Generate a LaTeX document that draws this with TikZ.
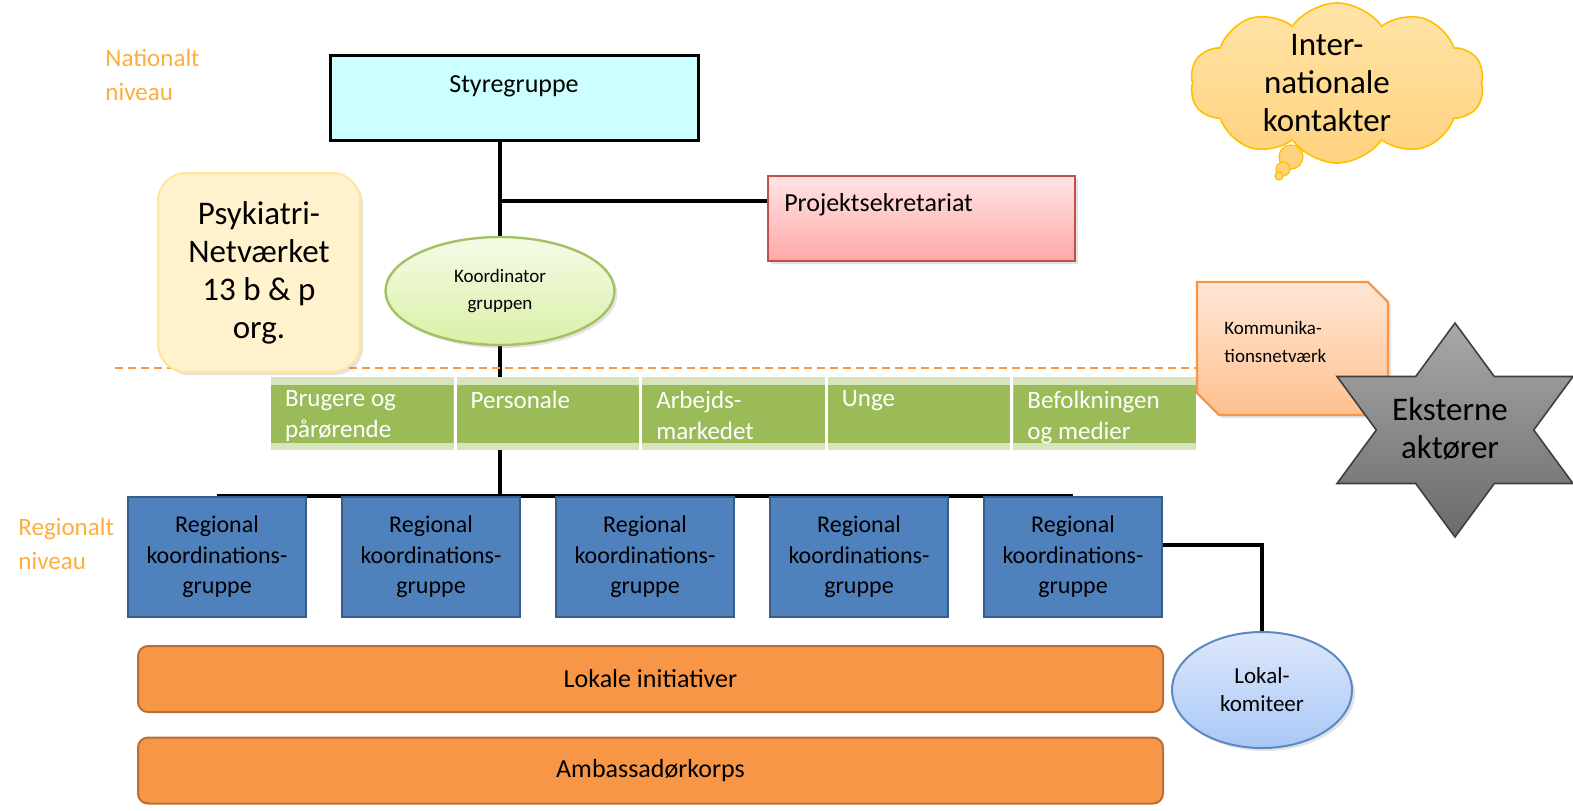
\documentclass[tikz,border=0pt]{standalone}
\usepackage{fontspec}
\setmainfont{Carlito}
\usetikzlibrary{positioning,shapes.geometric,shapes.symbols,shadows,backgrounds}

\definecolor{styrefill}{HTML}{CCFFFF}
\definecolor{sekline}{HTML}{C0504D}
\definecolor{sektop}{HTML}{FFE4E4}
\definecolor{sekbot}{HTML}{FFA8A8}
\definecolor{koordline}{HTML}{A3C163}
\definecolor{koordtop}{HTML}{F5FBE8}
\definecolor{koordbot}{HTML}{DAF0A6}
\definecolor{psykfill}{HTML}{FFF2CC}
\definecolor{psykline}{HTML}{FFE699}
\definecolor{skillefarve}{HTML}{F79646}
\definecolor{cellefyld}{HTML}{9BBB59}
\definecolor{cellelys}{HTML}{D7E4BD}
\definecolor{regionfill}{HTML}{4F81BD}
\definecolor{regionline}{HTML}{385D8A}
\definecolor{barfill}{HTML}{F79646}
\definecolor{barline}{HTML}{B86E35}
\definecolor{lokaltop}{HTML}{DDE7FA}
\definecolor{lokalbot}{HTML}{A9C8F6}
\definecolor{lokalline}{HTML}{5B89C4}
\definecolor{kommtop}{HTML}{FFE7D6}
\definecolor{kommbot}{HTML}{FFC08E}
\definecolor{startop}{HTML}{A8A8A8}
\definecolor{starbot}{HTML}{6B6B6B}
\definecolor{starline}{HTML}{3F3F3F}
\definecolor{skytop}{HTML}{FFE4A8}
\definecolor{skybot}{HTML}{FFD27E}
\definecolor{skyline}{HTML}{FFC000}
\definecolor{niveautxt}{HTML}{FFAD3D}

\newcommand{\fsz}[2]{\fontsize{#1}{#2}\selectfont}

\begin{document}
\begin{tikzpicture}[x=0.5pt,y=-0.5pt,
    forbind/.style={line width=1.6pt},
    skille/.style={draw=skillefarve,line width=1.2pt,dash pattern=on 4pt off 2.5pt},
    skygge/.style={drop shadow={opacity=0.22,shadow xshift=1.5pt,shadow yshift=-1.5pt}},
    niveau/.style={anchor=west,align=left,inner sep=0pt,text=niveautxt,font=\fsz{12.5}{17}},
    styrebox/.style={draw,line width=1.5pt,fill=styrefill,minimum width=184pt,minimum height=42.5pt,
        label={[anchor=north,yshift=-7.5pt,font=\fsz{13}{15}]north:#1}},
    sekbox/.style={draw=sekline,line width=1.2pt,top color=sektop,bottom color=sekbot,skygge,
        minimum width=153.5pt,minimum height=42.5pt,
        label={[anchor=north west,xshift=5.2pt,yshift=-6pt,font=\fsz{13}{15}]north west:#1}},
    koordell/.style={ellipse,draw=koordline,line width=1.2pt,top color=koordtop,bottom color=koordbot,skygge,
        minimum width=114.5pt,minimum height=54pt,inner sep=0pt,align=center,font=\fsz{9.5}{13.5}},
    psykbox/.style={rounded corners=14pt,draw=psykline,line width=1pt,fill=psykfill,skygge,
        minimum width=101pt,minimum height=99.5pt,align=center,font=\fsz{16.5}{19}},
    celle/.style={fill=cellelys,minimum width=91.3pt,minimum height=36.5pt,inner sep=0pt,
        path picture={\fill[cellefyld] ([yshift=-4pt]path picture bounding box.north west)
            rectangle ([yshift=3.5pt]path picture bounding box.south east);},
        label={[anchor=north west,xshift=3.7pt,yshift=-3.5pt,align=left,text=white,font=\fsz{12.5}{15.5}]north west:#1}},
    region/.style={draw=regionline,line width=1pt,fill=regionfill,minimum width=89pt,minimum height=60pt,
        align=center,font=\fsz{12}{15.25}},
    lokalbar/.style={rounded corners=5pt,draw=barline,line width=1pt,fill=barfill,
        minimum width=512.5pt,minimum height=33pt,font=\fsz{13}{15}},
    lokalell/.style={ellipse,draw=lokalline,line width=1pt,top color=lokaltop,bottom color=lokalbot,skygge,
        minimum width=90pt,minimum height=58pt,inner sep=0pt,align=center,font=\fsz{11.5}{14}},
    kommbox/.style={draw=skillefarve,line width=1.2pt,top color=kommtop,bottom color=kommbot,skygge},
    kommtekst/.style={anchor=west,align=left,inner sep=0pt,font=\fsz{9.5}{14}},
    stjerne/.style={draw=starline,line width=0.8pt,top color=startop,bottom color=starbot},
    stjtekst/.style={align=center,inner sep=0pt,font=\fsz{16.5}{19}},
    sky/.style={cloud,cloud puffs=10,cloud puff arc=110,cloud ignores aspect,draw=skyline,line width=0.8pt,
        top color=skytop,bottom color=skybot,minimum width=147pt,minimum height=80pt,inner sep=0pt,
        label={[align=center,xshift=-5pt,font=\fsz{16.5}{19}]center:#1}},
    boble/.style={draw=skyline,line width=0.6pt,fill=skybot}
]
\useasboundingbox (0,0) rectangle (1573,810);

% niveauer
\node[niveau] (nat) at (105,75) {Nationalt\\niveau};
\node[niveau] (regtxt) at (18,543.5) {Regionalt\\niveau};

% skillelinje
\draw[skille] (115,368) -- (1205,368);

% nationalt niveau
\node[psykbox] (psyk) at (259,272.5) {Psykiatri-\\Netværket\\13 b \& p\\org.};
\node[styrebox=Styregruppe] (styre) at (514,97.5) {};
\node[sekbox=Projektsekretariat] (sek) at (921.5,218.5) {};
\node[koordell] (koord) at (500,291) {Koordinator\\gruppen};

% grupper
\foreach \tekst [count=\i] in {{Brugere og\\pårørende},{Personale},{Arbejds-\\markedet},{Unge},{Befolkningen\\og medier}}
    \node[celle={\tekst}] (c\i) at (362.3+185.6*\i-185.6,413.5) {};

% regionalt niveau
\foreach \i in {1,...,5}
    \node[region] (r\i) at (217+214*\i-214,557) {Regional\\koordinations-\\gruppe};

\node[lokalbar] (lokale) at (650.5,679) {Lokale initiativer};
\node[lokalbar] (ambas) at (650.5,770.5) {Ambassadørkorps};
\node[lokalell] (lokal) at (1262,690) {Lokal-\\komiteer};

% kommunikation og eksterne
\filldraw[kommbox] (1197,282) -- (1368,282) -- (1388,302) -- (1388,415) -- (1219,415) -- (1197,393) -- cycle;
\node[kommtekst] (komm) at (1224,342) {Kommunika-\\tionsnetværk};

\coordinate (stjc) at (1455,430);
\filldraw[stjerne,shift={(stjc)}] (0,-107) -- (39.3,-53.5) -- (118,-53.5) -- (78.7,0) -- (118,53.5)
    -- (39.3,53.5) -- (0,107) -- (-39.3,53.5) -- (-118,53.5) -- (-78.7,0) -- (-118,-53.5) -- (-39.3,-53.5) -- cycle;
\node[stjtekst] (ekst) at (1450,429) {Eksterne\\aktører};

% internationalt
\node[sky={Inter-\\nationale\\kontakter}] (inter) at (1337,83) {};
\filldraw[boble] (1291,157) circle (6pt);
\filldraw[boble] (1283,169) circle (3.5pt);
\filldraw[boble] (1279,176) circle (2pt);

% forbindelser
\begin{scope}[on background layer]
\draw[forbind] (styre.south -| koord.north) -- (koord.north);
\draw[forbind] ([yshift=8.75pt]sek.west) -- ([yshift=8.75pt]sek.west -| koord.north);
\draw[forbind] (koord.south) -- (koord.south |- c2.north);
\draw[forbind] (c2.south -| koord.south) -- (koord.south |- r1.north);
\draw[forbind] (r1.north) -- (r5.north);
\draw[forbind] ([yshift=6pt]r5.east) -| (lokal.north);
\end{scope}
\end{tikzpicture}
\end{document}
